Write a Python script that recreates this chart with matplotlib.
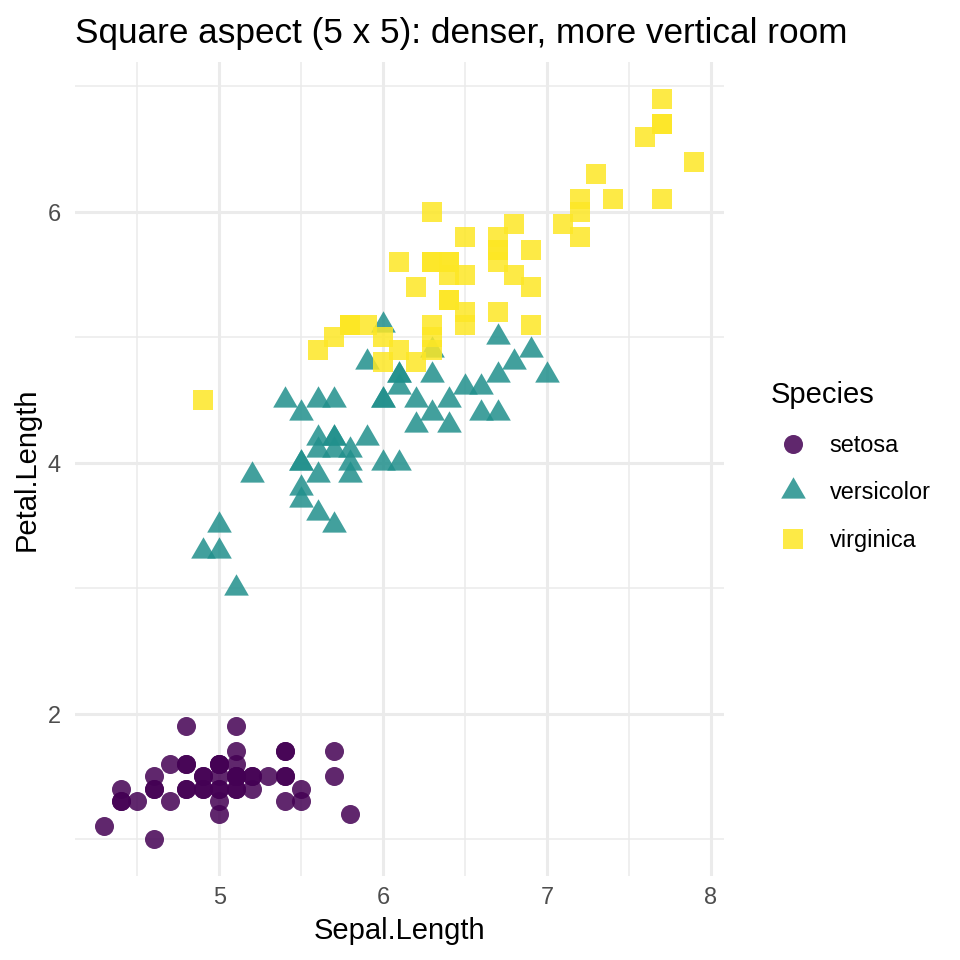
import matplotlib
matplotlib.use("Agg")
import matplotlib.pyplot as plt
from matplotlib.lines import Line2D
import numpy as np

plt.rcParams['font.family'] = ['Liberation Sans', 'DejaVu Sans']

species = ["setosa", "versicolor", "virginica"]
colors = ["#440154", "#21908C", "#FDE725"]

setosa_sepal = [5.1, 4.9, 4.7, 4.6, 5.0, 5.4, 4.6, 5.0, 4.4, 4.9, 5.4, 4.8, 4.8, 4.3, 5.8, 5.7, 5.4, 5.1, 5.7, 5.1,
                5.4, 5.1, 4.6, 5.1, 4.8, 5.0, 5.0, 5.2, 5.2, 4.7, 4.8, 5.4, 5.2, 5.5, 4.9, 5.0, 5.5, 4.9, 4.4, 5.1,
                5.0, 4.5, 4.4, 5.0, 5.1, 4.8, 5.1, 4.6, 5.3, 5.0]
setosa_petal = [1.4, 1.4, 1.3, 1.5, 1.4, 1.7, 1.4, 1.5, 1.4, 1.5, 1.5, 1.6, 1.4, 1.1, 1.2, 1.5, 1.3, 1.4, 1.7, 1.5,
                1.7, 1.5, 1.0, 1.7, 1.9, 1.6, 1.6, 1.5, 1.4, 1.6, 1.6, 1.5, 1.5, 1.4, 1.5, 1.2, 1.3, 1.4, 1.3, 1.5,
                1.3, 1.3, 1.3, 1.6, 1.9, 1.4, 1.6, 1.4, 1.5, 1.4]
versicolor_sepal = [7.0, 6.4, 6.9, 5.5, 6.5, 5.7, 6.3, 4.9, 6.6, 5.2, 5.0, 5.9, 6.0, 6.1, 5.6, 6.7, 5.6, 5.8, 6.2, 5.6,
                    5.9, 6.1, 6.3, 6.1, 6.4, 6.6, 6.8, 6.7, 6.0, 5.7, 5.5, 5.5, 5.8, 6.0, 5.4, 6.0, 6.7, 6.3, 5.6, 5.5,
                    5.5, 6.1, 5.8, 5.0, 5.6, 5.7, 5.7, 6.2, 5.1, 5.7]
versicolor_petal = [4.7, 4.5, 4.9, 4.0, 4.6, 4.5, 4.7, 3.3, 4.6, 3.9, 3.5, 4.2, 4.0, 4.7, 3.6, 4.4, 4.5, 4.1, 4.5, 3.9,
                    4.8, 4.0, 4.9, 4.7, 4.3, 4.4, 4.8, 5.0, 4.5, 3.5, 3.8, 3.7, 3.9, 5.1, 4.5, 4.5, 4.7, 4.4, 4.1, 4.0,
                    4.4, 4.6, 4.0, 3.3, 4.2, 4.2, 4.2, 4.3, 3.0, 4.1]
virginica_sepal = [6.3, 5.8, 7.1, 6.3, 6.5, 7.6, 4.9, 7.3, 6.7, 7.2, 6.5, 6.4, 6.8, 5.7, 5.8, 6.4, 6.5, 7.7, 7.7, 6.0,
                   6.9, 5.6, 7.7, 6.3, 6.7, 7.2, 6.2, 6.1, 6.4, 7.2, 7.4, 7.9, 6.4, 6.3, 6.1, 7.7, 6.3, 6.4, 6.0, 6.9,
                   6.7, 6.9, 5.8, 6.8, 6.7, 6.7, 6.3, 6.5, 6.2, 5.9]
virginica_petal = [6.0, 5.1, 5.9, 5.6, 5.8, 6.6, 4.5, 6.3, 5.8, 6.1, 5.1, 5.3, 5.5, 5.0, 5.1, 5.3, 5.5, 6.7, 6.9, 5.0,
                   5.7, 4.9, 6.7, 4.9, 5.7, 6.0, 4.8, 4.9, 5.6, 5.8, 6.1, 6.4, 5.6, 5.1, 5.6, 6.1, 5.6, 5.5, 4.8, 5.4,
                   5.6, 5.1, 5.1, 5.9, 5.7, 5.2, 5.0, 5.2, 5.4, 5.1]

x_ticks = [5, 6, 7, 8]
y_ticks = [2, 4, 6]

xs = [setosa_sepal, versicolor_sepal, virginica_sepal]
ys = [setosa_petal, versicolor_petal, virginica_petal]

tri = [(-1.0, -0.5774), (1.0, -0.5774), (0.0, 1.1547), (-1.0, -0.5774)]
markers = ["o", tri, "s"]
msizes = [13.7, 20.5, 13.7]

fig = plt.figure(figsize=(9.6, 9.6), dpi=100)
ax = fig.add_axes([75 / 960, 1 - 876 / 960, (724 - 75) / 960, (876 - 62) / 960])

allx = np.concatenate([np.array(v) for v in xs])
ally = np.concatenate([np.array(v) for v in ys])
xr = allx.max() - allx.min()
yr = ally.max() - ally.min()
ax.set_xlim(allx.min() - 0.05 * xr, allx.max() + 0.05 * xr)
ax.set_ylim(ally.min() - 0.05 * yr, ally.max() + 0.05 * yr)

grid_col = "#EBEBEB"
ax.set_xticks(x_ticks)
ax.set_yticks(y_ticks)
ax.set_xticks([4.5, 5.5, 6.5, 7.5], minor=True)
ax.set_yticks([1, 3, 5, 7], minor=True)
ax.grid(True, which="major", color=grid_col, linewidth=2.2, zorder=0)
ax.grid(True, which="minor", color=grid_col, linewidth=1.1, zorder=0)
ax.set_axisbelow(True)
for s in ax.spines.values():
    s.set_visible(False)
ax.tick_params(which="both", length=0)
ax.tick_params(axis="x", labelsize=16.9, labelcolor="#4D4D4D", pad=7)
ax.tick_params(axis="y", labelsize=16.9, labelcolor="#4D4D4D", pad=10)

for x, y, m, ms, c in zip(xs, ys, markers, msizes, colors):
    ax.plot(x, y, linestyle="none", marker=m, markersize=ms, color=c, alpha=0.85,
            markeredgewidth=0, zorder=3)

ax.set_xlabel("Sepal.Length", fontsize=21, labelpad=6)
ax.set_ylabel("Petal.Length", fontsize=21, labelpad=5)
ax.set_title("Square aspect (5 x 5): denser, more vertical room", fontsize=25.3, loc="left", pad=14)

handles = [Line2D([0], [0], linestyle="none", marker=m, markersize=ms, color=c, alpha=0.85,
                  markeredgewidth=0) for m, ms, c in zip(markers, msizes, colors)]
leg = fig.legend(handles, species, loc="upper left", bbox_to_anchor=(750 / 960, 1 - 360 / 960),
                 frameon=False, title="Species", fontsize=16.9, title_fontsize=21,
                 alignment="left", handletextpad=0.65, labelspacing=1.05, handlelength=1.85)

fig.savefig("out.png", dpi=100)
